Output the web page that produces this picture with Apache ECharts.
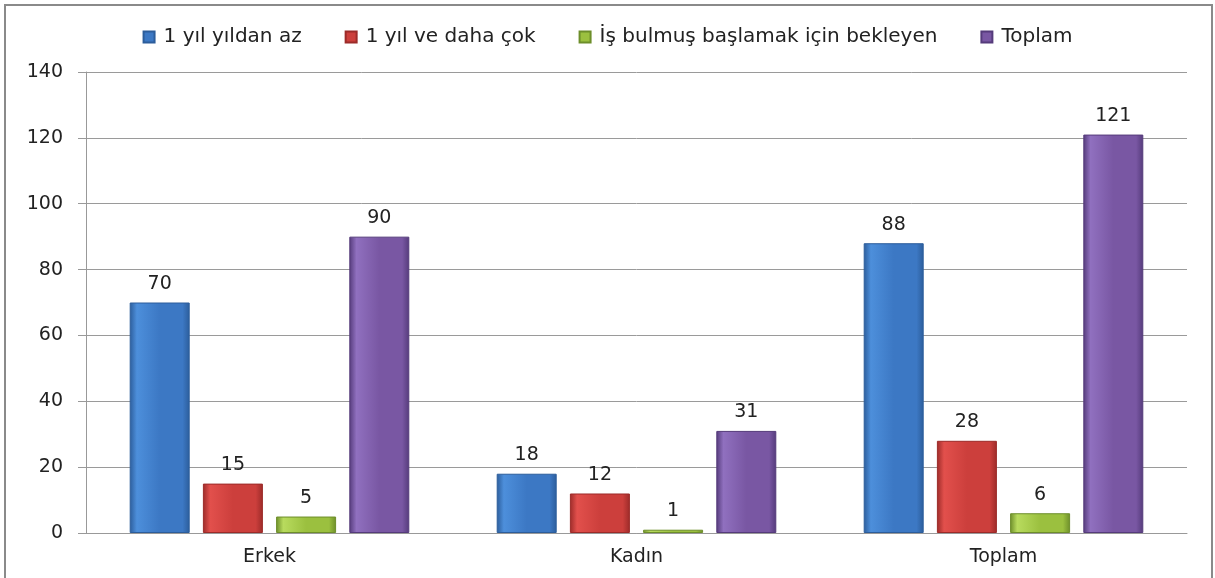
<!DOCTYPE html>
<html>
<head>
<meta charset="utf-8">
<script src="https://cdn.jsdelivr.net/npm/echarts@6/dist/echarts.min.js"></script>
<style>
  html, body { margin: 0; padding: 0; background: #fff; }
  #chart { width: 1215px; height: 578px; }
</style>
</head>
<body>
<div id="chart"></div>
<script>
// veriler
let categories = ['Erkek', 'Kadın', 'Toplam'];
let seriesNames = ['1 yıl yıldan az', '1 yıl ve daha çok', 'İş bulmuş başlamak için bekleyen', 'Toplam'];
let azValues = [70, 18, 88];
let cokValues = [15, 12, 28];
let bekleyenValues = [5, 1, 6];
let toplamValues = [90, 31, 121];
let yTicks = [0, 20, 40, 60, 80, 100, 120, 140];

// renkler: kenar koyu, orta açık
let palette = [
    ['#2c5d9b', '#4d8fdb', '#3c78c4'],
    ['#9c2b29', '#e2504c', '#cc3f3c'],
    ['#6d8e2a', '#b8db5e', '#9bc03f'],
    ['#553b7b', '#9070bf', '#7957a3']
];

function barColor(p) {
    return new echarts.graphic.LinearGradient(0, 0, 1, 0, [
        { offset: 0, color: p[0] },
        { offset: 0.12, color: p[1] },
        { offset: 0.5, color: p[2] },
        { offset: 0.88, color: p[2] },
        { offset: 1, color: p[0] }
    ]);
}

let allValues = [azValues, cokValues, bekleyenValues, toplamValues];
let font = 'DejaVu Sans';

let chart = echarts.init(document.getElementById('chart'));
let option = {
    animation: false,
    textStyle: { fontFamily: font },
    graphic: [{
        type: 'rect',
        shape: { x: 5, y: 5, width: 1207, height: 600 },
        style: { fill: 'none', stroke: '#8a8a8a', lineWidth: 2 }
    }],
    legend: {
        data: seriesNames.map(function (n, i) { return { name: n, itemStyle: { color: palette[i][2] } }; }),
        top: 22,
        left: 'center',
        itemWidth: 11,
        itemHeight: 11,
        itemGap: 43,
        icon: 'rect',
        textStyle: { fontSize: 20, color: '#222', fontFamily: font, padding: [0, 0, 0, 4] }
    },
    grid: { left: 86, right: 28, top: 72, bottom: 45 },
    xAxis: {
        type: 'category',
        data: categories,
        axisLine: { lineStyle: { color: '#999' } },
        axisTick: { show: false },
        axisLabel: { fontSize: 19, color: '#222', margin: 15 }
    },
    yAxis: {
        type: 'value',
        min: yTicks[0],
        max: yTicks[yTicks.length - 1],
        interval: 20,
        axisLine: { show: true, lineStyle: { color: '#999' } },
        axisTick: { show: true, length: 8, lineStyle: { color: '#999' } },
        axisLabel: { fontSize: 19, color: '#222', margin: 23 },
        splitLine: { lineStyle: { color: '#9a9a9a' } }
    },
    series: seriesNames.map(function (name, i) {
        return {
            name: name,
            type: 'bar',
            data: allValues[i],
            barWidth: 60,
            barGap: '22%',
            itemStyle: {
                color: barColor(palette[i]),
                borderColor: palette[i][0],
                borderWidth: 1
            },
            label: {
                show: true,
                position: 'top',
                distance: 9,
                fontSize: 19,
                color: '#222'
            }
        };
    })
};
chart.setOption(option);
</script>
</body>
</html>
